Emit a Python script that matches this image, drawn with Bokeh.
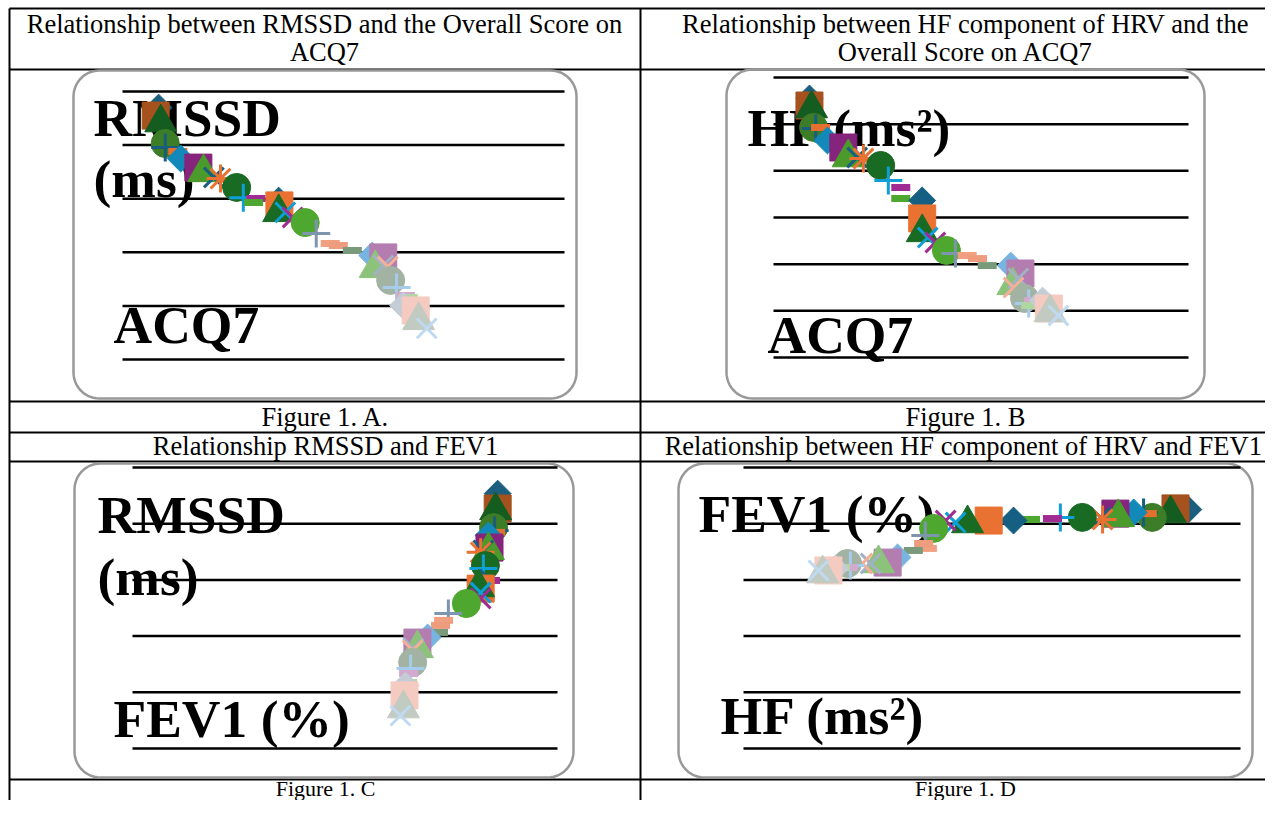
import numpy as np
from bokeh.plotting import figure
from bokeh.models import Range1d, ColumnDataSource
from bokeh.embed import file_html
from bokeh.resources import INLINE
from bokeh.core.properties import value

# ---------------- data ----------------
# Panel A: ACQ7 score (x) vs RMSSD in ms (y)
acq7_A = [0.49, 0.45, 0.52, 0.58, 0.58, 0.75, 0.79, 1.03, 1.10, 1.24, 1.33, 1.55, 1.64,
          1.81, 1.78, 2.12, 2.13, 2.12, 2.21, 2.31, 2.48, 2.63, 2.82, 2.93, 3.12, 3.39,
          3.54, 3.43, 3.54, 3.60, 3.64, 3.72, 3.84, 3.88, 3.81, 3.98, 4.02, 4.13]
rmssd_A = [94.0, 91.0, 88.4, 80.6, 79.1, 77.6, 75.0, 71.6, 69.8, 67.9, 67.5, 64.2, 60.4,
           60.1, 58.6, 59.3, 57.5, 54.9, 54.9, 53.0, 51.1, 47.0, 43.3, 42.5, 40.7, 38.8,
           38.1, 34.0, 35.1, 34.7, 29.5, 26.9, 23.9, 23.1, 20.1, 18.3, 14.6, 11.6]
# Panel B: ACQ7 score (x) vs HF in ms^2 (y)
acq7_B = [0.52, 0.52, 0.55, 0.58, 0.61, 0.68, 0.78, 1.01, 1.08, 1.21, 1.30, 1.55, 1.66,
          1.84, 1.84, 2.15, 2.15, 2.15, 2.23, 2.34, 2.50, 2.63, 2.80, 2.95, 3.09, 3.43,
          3.57, 3.46, 3.54, 3.47, 3.63, 3.69, 3.76, 3.72, 3.89, 3.98, 4.00, 4.12]
hf_B = [1110, 1080, 1067, 986, 981, 986, 930, 900, 857, 857, 853, 823, 759,
        729, 681, 673, 596, 536, 514, 493, 459, 446, 437, 424, 394, 394,
        360, 309, 339, 300, 253, 231, 244, 223, 244, 210, 193, 180]
# Panel C: FEV1 % (x) vs RMSSD in ms (y)
fev1_C = [107.4, 107.4, 106.8, 106.2, 106.5, 106.8, 104.7, 105.0, 104.7, 103.2, 102.4, 103.8,
          103.2, 105.3, 102.9, 102.4, 102.4, 101.8, 102.4, 102.4, 98.2, 92.9, 91.5, 90.6,
          90.0, 86.8, 83.8, 83.8, 82.6, 82.4, 82.4, 81.8, 81.2, 80.9, 80.3, 80.0, 79.7, 78.8]
rmssd_C = [90.7, 85.4, 84.7, 78.6, 77.6, 76.9, 75.8, 71.5, 70.5, 70.5, 69.8, 65.1, 64.1,
           59.8, 59.1, 59.1, 56.9, 57.3, 55.5, 53.4, 51.6, 48.0, 45.6, 43.8, 41.3, 39.5,
           37.7, 35.6, 35.6, 34.9, 30.6, 28.5, 26.7, 23.5, 22.4, 18.9, 14.2, 11.7]
# Panel D: HF in ms^2 (x) vs FEV1 % (y)
hf_D = [1074, 1043, 1031, 987, 966, 975, 942, 898, 905, 862, 867, 818, 765,
        746, 693, 652, 592, 541, 512, 488, 459, 439, 444, 435, 410, 372,
        348, 326, 307, 287, 251, 258, 253, 234, 222, 205, 191, 181]
fev1_D = [106.3, 106.8, 104.5, 102.8, 105.0, 104.5, 105.0, 104.5, 102.8, 102.8, 101.9, 102.8,
          102.8, 102.3, 101.9, 101.4, 101.4, 100.1, 100.5, 101.4, 97.9, 94.8, 89.0, 91.2,
          88.1, 85.0, 82.7, 82.3, 82.3, 82.3, 82.3, 81.4, 80.5, 80.5, 80.1, 79.2, 77.8, 79.2]

# gridline values (value axes)
acq7_axis = [0, 6]
rmssd_ticks = [0, 20, 40, 60, 80, 100]
hf_ticks = [0, 200, 400, 600, 800, 1000, 1200]
fev1_axis = [0, 125]
fev1_ticks = [0, 25, 50, 75, 100, 125]
hf_axis = [0, 1200]

titles_top = [["Relationship between RMSSD and the Overall Score on", "ACQ7"],
              ["Relationship between HF component of HRV and the", "Overall Score on ACQ7"]]
captions = ["Figure 1. A.", "Figure 1. B", "Relationship RMSSD and FEV1",
            "Relationship between HF component of HRV and FEV1", "Figure 1. C", "Figure 1. D"]

# ---------------- series styles (one point per series, shared order) ----------------
series_style = [
    ("diamond", "#1B5E7E"), ("square", "#A6521E"), ("triangle", "#155C20"), ("circle", "#3D7D27"),
    ("plus", "#175D7E"), ("dash", "#E46F2E"), ("diamond", "#1289B8"), ("square", "#86237C"),
    ("triangle", "#4A9A2C"), ("x", "#1A5F80"), ("asterisk", "#E97132"), ("circle", "#196B24"),
    ("plus", "#0F9ED5"), ("dash", "#A02B93"), ("dash", "#4EA72E"), ("diamond", "#156082"),
    ("square", "#E97132"), ("triangle", "#196B24"), ("x", "#0F9ED5"), ("x", "#A02B93"),
    ("circle", "#4EA72E"), ("plus", "#7D96AE"), ("dash", "#F0A080"), ("dash", "#EE9C7E"),
    ("dash", "#7A9A7C"), ("diamond", "#78B4E0"), ("square", "#B47DB0"), ("triangle", "#8DC27A"),
    ("x", "#A3B1C4"), ("x", "#F2B09A"), ("circle", "#A2B2A3"), ("plus", "#A6CCEC"),
    ("dash", "#D2A9CF"), ("dash", "#B0D7A0"), ("diamond", "#C4CCD6"), ("square", "#F5CAC0"),
    ("triangle", "#C2CBC1"), ("x", "#BFDAF0"),
]
MARK = {  # bokeh marker, size, angle, line width
    "diamond": ("square", 19, np.pi / 4, 1),
    "square": ("square", 27, 0.0, 1),
    "triangle": ("triangle", 32, 0.0, 1),
    "circle": ("circle", 28, 0.0, 1),
    "x": ("x", 28, 0.0, 3),
    "asterisk": ("asterisk", 28, 0.0, 3),
    "plus": ("cross", 28, 0.0, 3),
    "dash": ("dash", 19, 0.0, 7),
}

# ---------------- canvas: picture pixel coordinates ----------------
W, H = 1265, 800
X0, Y0 = 0, 0
p = figure(width=W, height=H, x_range=Range1d(X0, X0 + W), y_range=Range1d(Y0 + H, Y0),
           output_backend="svg", toolbar_location=None, min_border=0,
           x_axis_location=None, y_axis_location=None)
p.grid.visible = False
p.outline_line_color = None
p.background_fill_color = "white"

SERIF = value("Liberation Serif")

# panel placement (picture pixels) of the value ranges
panels = {
    "A": dict(xd=acq7_axis, xp=(122, 564), yd=(0, 100), yp=(359, 91), gx=acq7_axis, gy=rmssd_ticks,
              x=acq7_A, y=rmssd_A),
    "B": dict(xd=acq7_axis, xp=(773, 1188), yd=(0, 1200), yp=(357, 77), gx=acq7_axis, gy=hf_ticks,
              x=acq7_B, y=hf_B),
    "C": dict(xd=fev1_axis, xp=(132, 557), yd=(0, 100), yp=(748, 467), gx=fev1_axis, gy=rmssd_ticks,
              x=fev1_C, y=rmssd_C),
    "D": dict(xd=hf_axis, xp=(743, 1240), yd=(0, 125), yp=(748, 467), gx=hf_axis, gy=fev1_ticks,
              x=hf_D, y=fev1_D),
}
exx, exy = {}, {}
for k, d in panels.items():
    sx = (d["xd"][1] - d["xd"][0]) / (d["xp"][1] - d["xp"][0])
    exx[k] = Range1d(d["xd"][0] + (X0 - d["xp"][0]) * sx, d["xd"][0] + (X0 + W - d["xp"][0]) * sx)
    sy = (d["yd"][1] - d["yd"][0]) / (d["yp"][1] - d["yp"][0])
    exy[k] = Range1d(d["yd"][0] + (Y0 + H - d["yp"][0]) * sy, d["yd"][0] + (Y0 - d["yp"][0]) * sy)
p.extra_x_ranges = exx
p.extra_y_ranges = exy

# ---------------- table ----------------
for yy in [8, 69, 401, 432, 461, 779]:
    p.line([9, 1281], [yy, yy], line_color="black", line_width=2)
for xx in [9, 640]:
    p.line([xx, xx], [8, 816], line_color="black", line_width=2)

BASE_SHIFT = 0.35  # renderer draws alphabetic baseline this many em lower

def tx(x, y, s, size, bold=False, align="center"):
    p.text(x=[x], y=[y - BASE_SHIFT * size], text=[s], text_font=SERIF, text_font_size=f"{size}px",
           text_font_style="bold" if bold else "normal", text_align=align,
           text_baseline="alphabetic", text_color="black")

TS = 26.5
tx(324, 33, titles_top[0][0], TS)
tx(324, 61, titles_top[0][1], TS)
tx(965, 33, titles_top[1][0], TS)
tx(965, 61, titles_top[1][1], TS)
tx(325, 426, captions[0], TS)
tx(965, 426, captions[1], TS)
tx(325, 455, captions[2], TS)
tx(963, 455, captions[3], TS)
tx(325, 796, captions[4], 22)
tx(965, 796, captions[5], 22)

# rounded chart-area boxes
def rbox(x0, y0, x1, y1, r, n=14):
    xs, ys = [], []
    for cx, cy, a0 in [(x1 - r, y0 + r, -90), (x1 - r, y1 - r, 0), (x0 + r, y1 - r, 90), (x0 + r, y0 + r, 180)]:
        a = np.radians(np.linspace(a0, a0 + 90, n))
        xs += list(cx + r * np.cos(a)); ys += list(cy + r * np.sin(a))
    return xs + [xs[0]], ys + [ys[0]]

for b in [(73, 70, 576, 398), (726, 69, 1204, 398), (74, 463, 573, 777), (678, 463, 1252, 777)]:
    bx, by = rbox(*b, 26)
    p.line(bx, by, line_color="#999999", line_width=2.5)

# big axis labels
LS = 53.5
tx(93, 136, "RMSSD", LS, True, "left")
tx(93, 197, "(ms)", LS, True, "left")
tx(113, 343, "ACQ7", LS, True, "left")
tx(747, 146, "HF (ms\u00b2)", LS, True, "left")
tx(767, 353, "ACQ7", LS, True, "left")
tx(97, 533, "RMSSD", LS, True, "left")
tx(97, 595, "(ms)", LS, True, "left")
tx(113, 737, "FEV1 (%)", LS, True, "left")
tx(698, 532, "FEV1 (%)", LS, True, "left")
tx(720, 734, "HF (ms\u00b2)", LS, True, "left")

# gridlines and markers
for k, d in panels.items():
    gy = d["gy"]
    p.segment(x0=[d["gx"][0]] * len(gy), x1=[d["gx"][1]] * len(gy), y0=gy, y1=gy,
              line_color="black", line_width=2.5, x_range_name=k, y_range_name=k)
    src = ColumnDataSource(dict(
        x=d["x"], y=d["y"],
        marker=[MARK[m][0] for m, c in series_style],
        size=[MARK[m][1] for m, c in series_style],
        angle=[MARK[m][2] for m, c in series_style],
        lw=[MARK[m][3] for m, c in series_style],
        col=[c for m, c in series_style],
    ))
    p.scatter(x="x", y="y", marker="marker", size="size", angle="angle", fill_color="col",
              line_color="col", line_width="lw", source=src, x_range_name=k, y_range_name=k)

open("out.html", "w").write(file_html(p, INLINE))
